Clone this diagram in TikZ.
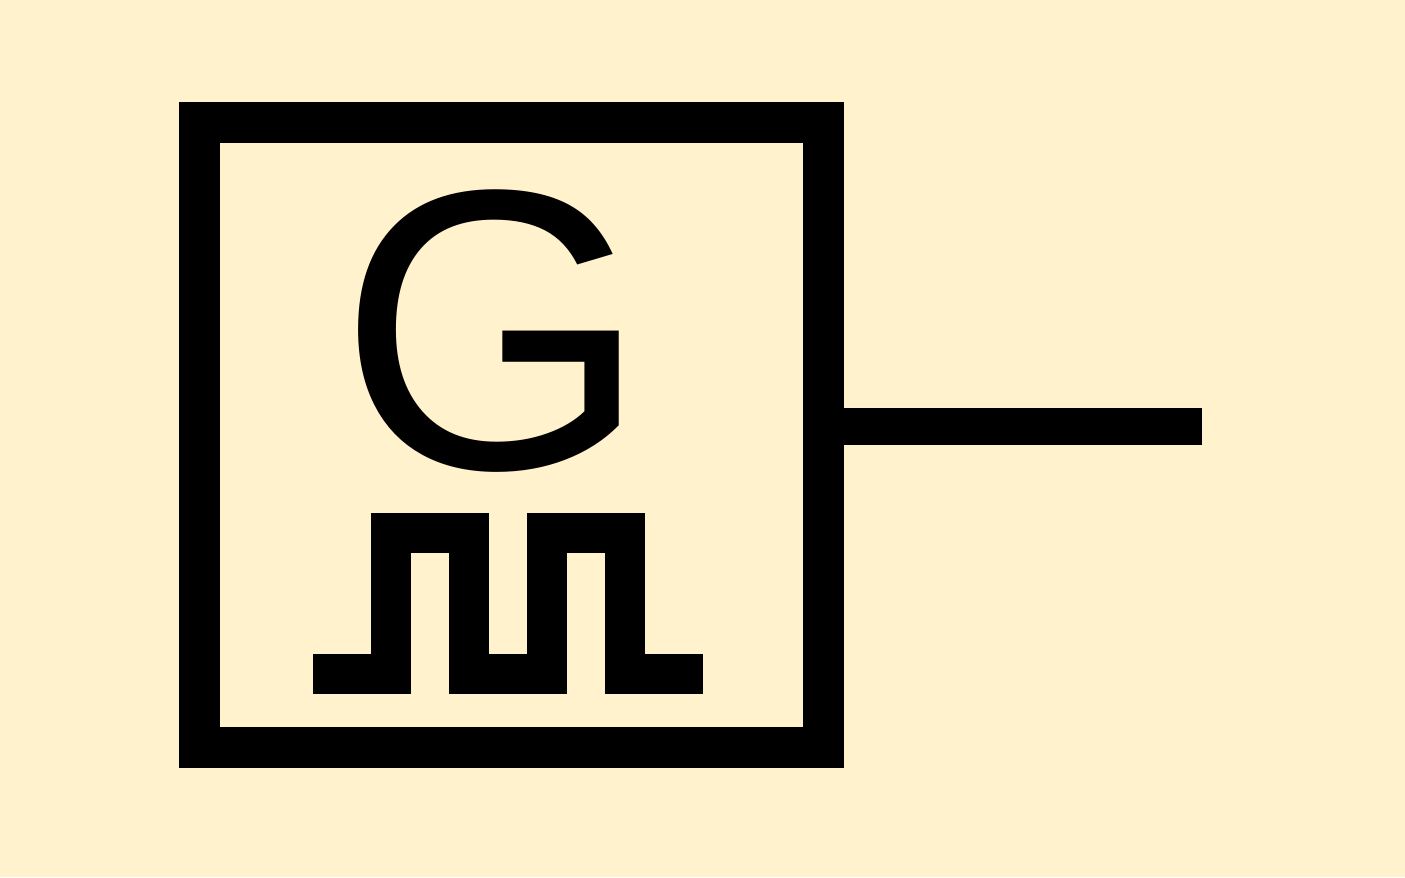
\documentclass[tikz,border=0pt]{standalone}
\usepackage{fontspec}
\setmainfont{Liberation Sans}
\definecolor{bgcream}{HTML}{FFF2CC}
\begin{document}
\begin{tikzpicture}
    % Background
    \fill[bgcream] (0,0) rectangle (14.05,8.77);
    \useasboundingbox (0,0) rectangle (14.05,8.77);

    % Generator box
    \node[draw=black, line width=0.41cm, minimum width=6.24cm, minimum height=6.25cm, inner sep=0pt] (gen) at (5.115,4.42) {};
    \node[inner sep=0pt] (letter) at (4.938,5.455) {\fontsize{113.6}{114}\selectfont G};

    % Output line
    \coordinate (out) at (12.02,4.505);
    \draw[line width=0.37cm] (gen.east |- out) -- (out);

    % Pulse train
    \draw[line width=0.40cm, miter limit=10] (3.13,2.03) -| (3.91,3.44) -| (4.69,2.03) -| (5.47,3.44) -| (6.25,2.03) -- (7.03,2.03);
\end{tikzpicture}
\end{document}
